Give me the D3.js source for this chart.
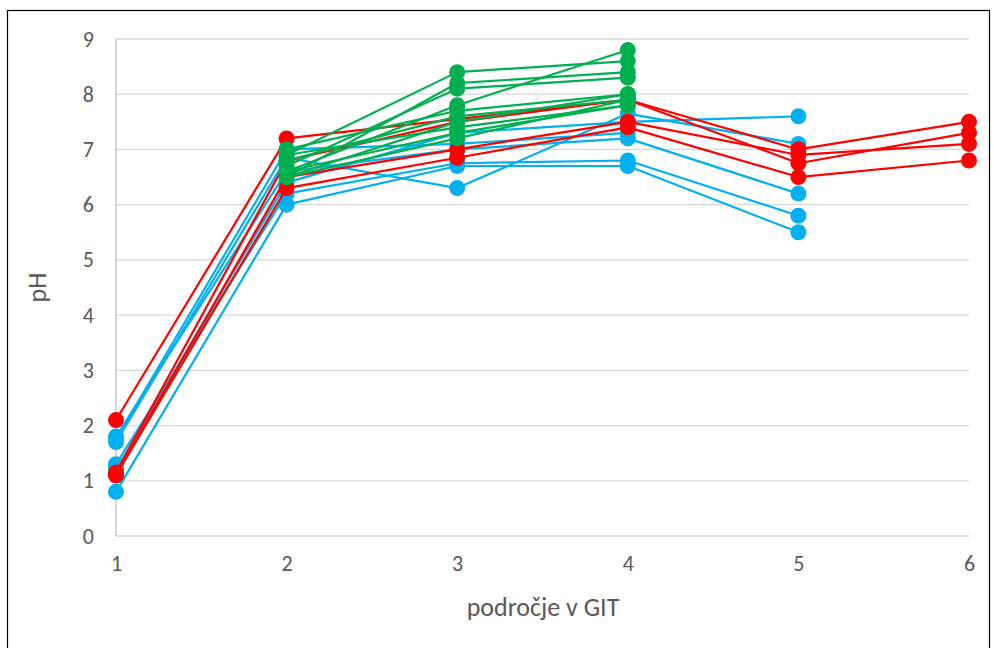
<!DOCTYPE html>
<html>
<head>
<meta charset="utf-8">
<script src="https://cdn.jsdelivr.net/npm/d3@7"></script>
<style>
  html, body { margin: 0; padding: 0; background: #fff; }
  svg { display: block; }
</style>
</head>
<body>
<svg id="chart" width="994" height="648"></svg>
<script>
// Regions of the gastrointestinal tract (x) and tick values
const regions = [1, 2, 3, 4, 5, 6];
const phTicks = [0, 1, 2, 3, 4, 5, 6, 7, 8, 9];

// pH measurements per subject: [region, pH]
const blueSeries = [
  [[1, 0.8], [2, 6.0], [3, 6.7], [4, 6.7], [5, 5.5]],
  [[1, 1.3], [2, 6.2], [3, 6.75], [4, 6.8], [5, 5.8]],
  [[1, 1.7], [2, 6.85], [3, 6.3], [4, 7.65], [5, 7.1]],
  [[1, 1.8], [2, 6.6], [3, 7.0], [4, 7.2], [5, 6.2]],
  [[1, 1.2], [2, 6.4], [3, 7.3], [4, 7.5], [5, 7.6]],
  [[1, 1.75], [2, 7.0], [3, 7.1], [4, 7.3]]
];
const redSeries = [
  [[1, 2.1], [2, 7.2], [3, 7.55], [4, 7.9], [5, 7.0], [6, 7.5]],
  [[1, 1.1], [2, 6.3], [3, 6.85], [4, 7.4], [5, 6.5], [6, 6.8]],
  [[1, 1.1], [2, 6.5], [3, 7.0], [4, 7.5], [5, 6.9], [6, 7.1]],
  [[1, 1.15], [2, 6.8], [3, 7.5], [4, 7.9], [5, 6.75], [6, 7.3]]
];
const greenSeries = [
  [[2, 6.9], [3, 8.4], [4, 8.6]],
  [[2, 6.5], [3, 8.2], [4, 8.4]],
  [[2, 6.7], [3, 8.1], [4, 8.3]],
  [[2, 6.6], [3, 7.8], [4, 8.8]],
  [[2, 7.0], [3, 7.7], [4, 8.0]],
  [[2, 6.8], [3, 7.6], [4, 7.9]],
  [[2, 6.5], [3, 7.5], [4, 8.0]],
  [[2, 6.9], [3, 7.4], [4, 7.8]],
  [[2, 6.6], [3, 7.3], [4, 7.8]],
  [[2, 6.5], [3, 7.2], [4, 7.9]]
];

const groups = [
  { data: blueSeries, color: "#00B0F0" },
  { data: redSeries, color: "#FF0000" },
  { data: greenSeries, color: "#00B050" }
];

const svg = d3.select("#chart");
const font = "Carlito, Calibri, 'Liberation Sans', Arial, sans-serif";
const textColor = "#595959";

// Outer frame
svg.append("rect")
  .attr("x", 7.5).attr("y", 10.5)
  .attr("width", 982).attr("height", 660)
  .attr("fill", "none").attr("stroke", "#000").attr("stroke-width", 1.2);

const x = d3.scaleLinear().domain([1, 6]).range([116, 969]);
const y = d3.scaleLinear().domain([0, 9]).range([536, 39]);

// Horizontal gridlines
svg.append("g")
  .selectAll("line")
  .data(phTicks)
  .join("line")
  .attr("x1", x(1)).attr("x2", x(6))
  .attr("y1", d => y(d)).attr("y2", d => y(d))
  .attr("stroke", "#d9d9d9").attr("stroke-width", 1.3);

// Vertical axis line at region 1
svg.append("line")
  .attr("x1", x(1)).attr("x2", x(1))
  .attr("y1", y(9)).attr("y2", y(0))
  .attr("stroke", "#bfbfbf").attr("stroke-width", 1.3);

// Y axis labels
const yAxis = d3.axisLeft(y).tickValues(phTicks).tickSize(0).tickPadding(22);
const gy = svg.append("g").attr("transform", `translate(${x(1)},0)`).call(yAxis);
gy.select(".domain").remove();
gy.selectAll("text").attr("font-family", font).attr("font-size", 22).attr("fill", textColor);

// X axis labels
const xAxis = d3.axisBottom(x).tickValues(regions).tickSize(0).tickPadding(19).tickFormat(d3.format("d"));
const gx = svg.append("g").attr("transform", `translate(0,${y(0)})`).call(xAxis);
gx.select(".domain").remove();
gx.selectAll("text").attr("font-family", font).attr("font-size", 22).attr("fill", textColor);

// Axis titles
svg.append("text")
  .attr("x", 543).attr("y", 616)
  .attr("text-anchor", "middle")
  .attr("font-family", font).attr("font-size", 26).attr("fill", textColor)
  .text("področje v GIT");

svg.append("text")
  .attr("transform", `translate(46,${(y(0) + y(9)) / 2}) rotate(-90)`)
  .attr("text-anchor", "middle")
  .attr("font-family", font).attr("font-size", 26).attr("fill", textColor)
  .text("pH");

const line = d3.line().x(d => x(d[0])).y(d => y(d[1]));

groups.forEach(g => {
  const layer = svg.append("g");
  g.data.forEach(series => {
    layer.append("path")
      .attr("d", line(series))
      .attr("fill", "none")
      .attr("stroke", g.color)
      .attr("stroke-width", 2.2)
      .attr("stroke-linejoin", "round");
    layer.selectAll(null)
      .data(series)
      .join("circle")
      .attr("cx", d => x(d[0]))
      .attr("cy", d => y(d[1]))
      .attr("r", 8)
      .attr("fill", g.color);
  });
});
</script>
</body>
</html>
